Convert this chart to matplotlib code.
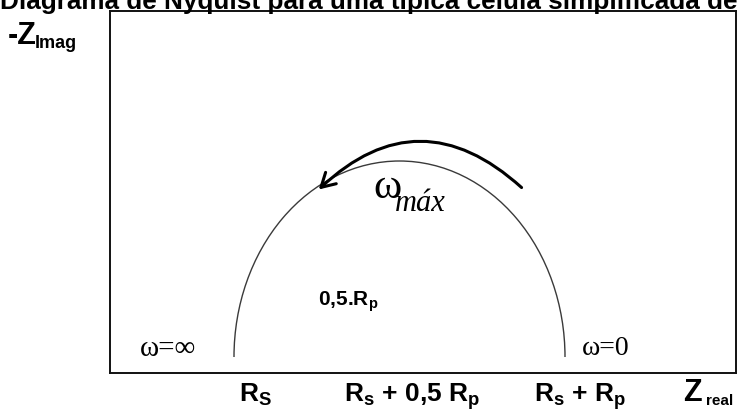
import matplotlib
matplotlib.use("Agg")
import matplotlib.pyplot as plt
from matplotlib.patches import Arc, FancyArrowPatch

plt.rcParams['font.family'] = ['Liberation Sans', 'DejaVu Sans']
plt.rcParams['mathtext.fontset'] = 'custom'
plt.rcParams['mathtext.rm'] = 'Liberation Sans'
plt.rcParams['mathtext.bf'] = 'Liberation Sans:bold'

# circuito simplificado (unidades arbitrárias)
R_S = 1.0
R_P = 2.0
ALTURA = 1.0          # altura do semicírculo = 0,5.Rp no desenho

# rótulos do eixo real e onde ficam
rotulos_x = [r"R$_\mathbf{S}$", r"R$_\mathbf{s}$ + 0,5 R$_\mathbf{p}$", r"R$_\mathbf{s}$ + R$_\mathbf{p}$"]
posicoes_rotulos = [R_S + 0.13, R_S + 0.5 * R_P + 0.075, R_S + R_P + 0.09]

# seta de varredura em frequência (início -> fim)
seta_inicio = (2.75, 0.855)
seta_fim = (1.50, 0.845)

SERIF = ['Liberation Serif', 'DejaVu Serif']

fig = plt.figure(figsize=(7.38, 4.14), dpi=100)


def fx(px):
    return px / 738


def fy(py):
    return 1 - py / 414


ax = fig.add_axes([fx(110), fy(374), fx(736) - fx(110), fy(12) - fy(374)])
ax.set_xlim(0.2508, 4.0332)
ax.set_ylim(-0.0816, 1.7653)
ax.set_xticks([])
ax.set_yticks([])
for s in ax.spines.values():
    s.set_linewidth(1.4)
    s.set_color('#111111')

# semicírculo de Nyquist
centro = R_S + R_P / 2
ax.add_patch(Arc((centro, 0), R_P, 2 * ALTURA, theta1=0, theta2=180,
                 color='#3a3a3a', lw=1.0))

seta = FancyArrowPatch(seta_inicio, seta_fim, connectionstyle="arc3,rad=0.47",
                       arrowstyle="->,head_length=0.7,head_width=0.4",
                       mutation_scale=14, lw=2.2, color='black')
ax.add_patch(seta)

# textos dentro do gráfico
ax.text(1.69, 0.29, r"0,5.R$_\mathbf{p}$", fontsize=15, weight='bold', ha='center', va='center')
ax.text(0.43, 0.01, "ω=∞", fontsize=21, family=SERIF, ha='left', va='baseline')
ax.text(3.10, 0.015, "ω=0", fontsize=20, family=SERIF, ha='left', va='baseline')
ax.text(1.84, 0.816, "ω", fontsize=31, family=SERIF, ha='left', va='baseline')
ax.text(1.975, 0.75, "máx", fontsize=22, family=SERIF, style='italic', ha='left', va='baseline')

# rótulos abaixo do eixo
for txt, xp in zip(rotulos_x, posicoes_rotulos):
    ax.text(xp, -0.0746, txt, fontsize=19, weight='bold', ha='center', va='baseline',
            transform=ax.get_xaxis_transform())

fig.text(fx(683), fy(401), "Z", fontsize=22, weight='bold', ha='left', va='baseline')
fig.text(fx(706), fy(405), "real", fontsize=11, weight='bold', ha='left', va='baseline')

fig.text(fx(8), fy(44), "-Z", fontsize=22, weight='bold', ha='left', va='baseline')
fig.text(fx(35), fy(48), "Imag", fontsize=13, weight='bold', ha='left', va='baseline')

fig.text(0, fy(8.5), "Diagrama de Nyquist para uma típica célula simplificada de Randles",
         fontsize=18.8, weight='bold', ha='left', va='baseline')

fig.savefig("out.png", dpi=100)
